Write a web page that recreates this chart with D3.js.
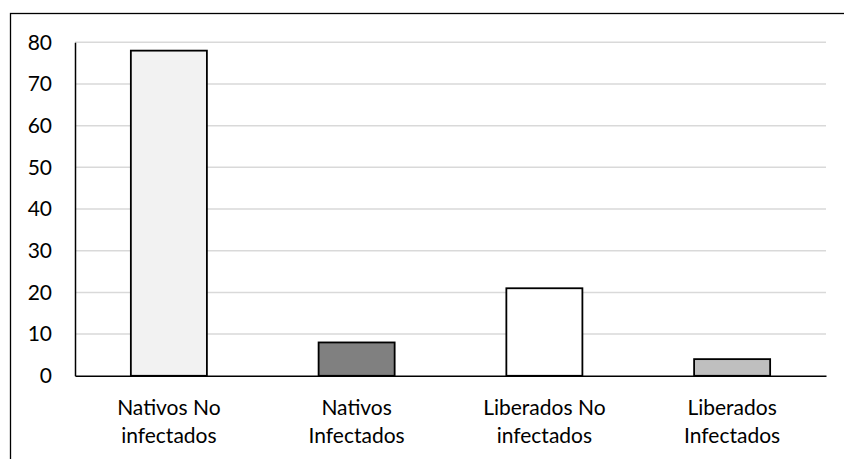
<!DOCTYPE html>
<html>
<head>
<meta charset="utf-8">
<script src="https://cdn.jsdelivr.net/npm/d3@7"></script>
<style>
  html, body { margin: 0; padding: 0; background: #fff; }
  svg { display: block; }
  text { font-family: Lato, "Open Sans", sans-serif; fill: #000; }
</style>
</head>
<body>
<svg id="chart" width="844" height="459"></svg>
<script>
// Categories (two-line labels) and their counts
const categories = ["Nativos No|infectados", "Nativos|Infectados", "Liberados No|infectados", "Liberados|Infectados"];
const values = [78, 8, 21, 4];
const barColors = ["#f2f2f2", "#808080", "#ffffff", "#bfbfbf"];
const yTicks = [0, 10, 20, 30, 40, 50, 60, 70, 80];

const svg = d3.select("#chart");
const W = 844, H = 459;
const margin = { left: 75, right: 18, top: 42.3, bottom: 83.2 };

// Outer frame
svg.append("rect")
  .attr("x", 10.5).attr("y", 13.5)
  .attr("width", W + 20).attr("height", H + 20)
  .attr("fill", "none").attr("stroke", "#000").attr("stroke-width", 1.3);

const x = d3.scaleBand()
  .domain(categories)
  .range([margin.left, W - margin.right])
  .paddingInner(0.595)
  .paddingOuter(0.2975);

const y = d3.scaleLinear()
  .domain([0, 80])
  .range([H - margin.bottom, margin.top]);

// Horizontal gridlines
svg.append("g")
  .selectAll("line")
  .data(yTicks.filter(d => d > 0))
  .join("line")
  .attr("x1", margin.left).attr("x2", W - margin.right)
  .attr("y1", d => y(d)).attr("y2", d => y(d))
  .attr("stroke", "#d9d9d9").attr("stroke-width", 1.5);

// Y axis
const yAxis = svg.append("g")
  .attr("transform", `translate(${margin.left},0)`)
  .call(d3.axisLeft(y).tickValues(yTicks).tickSize(0).tickPadding(23));
yAxis.select(".domain").attr("stroke", "#000").attr("stroke-width", 1.5);
yAxis.selectAll("text").style("font-size", "21px").attr("font-family", "Lato, sans-serif");

// Bars
svg.append("g")
  .selectAll("rect")
  .data(categories)
  .join("rect")
  .attr("x", d => x(d))
  .attr("y", (d, i) => y(values[i]))
  .attr("width", x.bandwidth())
  .attr("height", (d, i) => y(0) - y(values[i]))
  .attr("fill", (d, i) => barColors[i])
  .attr("stroke", "#000").attr("stroke-width", 1.8);

// X axis baseline and category labels
const xAxis = svg.append("g")
  .attr("transform", `translate(0,${y(0)})`)
  .call(d3.axisBottom(x).tickSize(0).tickFormat(""));
xAxis.select(".domain").attr("stroke", "#000").attr("stroke-width", 1.5);

const labels = svg.append("g")
  .selectAll("text")
  .data(categories)
  .join("text")
  .attr("text-anchor", "middle")
  .style("font-size", "21px")
  .attr("x", d => x(d) + x.bandwidth() / 2)
  .attr("y", y(0) + 39);
labels.selectAll("tspan")
  .data(d => d.split("|"))
  .join("tspan")
  .attr("x", function () { return d3.select(this.parentNode).attr("x"); })
  .attr("dy", (d, i) => i === 0 ? 0 : 28.5)
  .text(d => d);
</script>
</body>
</html>
